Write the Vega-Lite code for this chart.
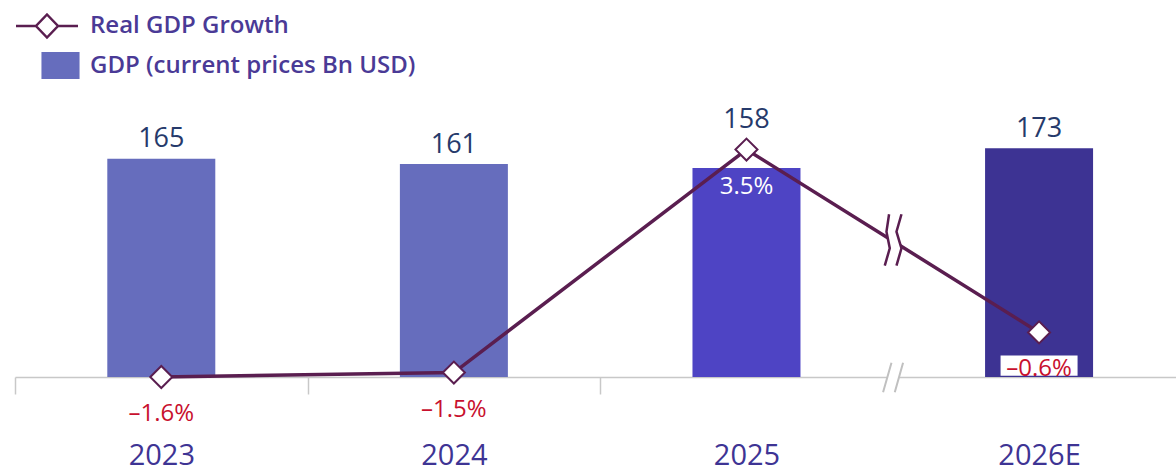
{
  "$schema": "https://vega.github.io/schema/vega-lite/v6.json",
  "width": 1161,
  "height": 377,
  "autosize": {"type": "none"},
  "padding": {"left": 15, "top": 0, "right": 0, "bottom": 92},
  "config": {"view": {"stroke": null}, "font": "Open Sans"},
  "datasets": {
    "main": [
      {"year": "2023", "idx": 0, "gdp": 165, "growth": -1.6, "glabel": "–1.6%"},
      {"year": "2024", "idx": 1, "gdp": 161, "growth": -1.5, "glabel": "–1.5%"},
      {"year": "2025", "idx": 2, "gdp": 158, "growth": 3.5, "glabel": "3.5%"},
      {"year": "2026E", "idx": 3, "gdp": 173, "growth": -0.6, "glabel": "–0.6%"}
    ],
    "legend": [{"series": "Real GDP Growth"}, {"series": "GDP (current prices Bn USD)"}],
    "breaks": [
      {"idx": 2.5, "growth": 1.45, "kind": "line"},
      {"idx": 2.5, "growth": -1.6, "kind": "axis"}
    ]
  },
  "data": {"name": "main"},
  "resolve": {"scale": {"y": "independent"}, "axis": {"x": "independent"}},
  "layer": [
    {
      "mark": {"type": "bar", "size": 108},
      "encoding": {
        "x": {"field": "idx", "type": "quantitative", "scale": {"domain": [-0.5, 3.468], "nice": false, "zero": false, "padding": 0},
          "axis": {"orient": "bottom", "values": [-0.5, 0.5, 1.5], "labels": false, "domain": true, "domainColor": "#C8C8C8", "domainWidth": 1.5, "ticks": true, "tickColor": "#C8C8C8", "tickWidth": 1.5, "tickSize": 17, "grid": false, "title": null}},
        "y": {"field": "gdp", "type": "quantitative", "scale": {"domain": [0, 285], "nice": false, "zero": false}, "axis": null},
        "color": {"field": "year", "type": "nominal", "scale": {"domain": ["2023", "2024", "2025", "2026E"], "range": ["#666DBD", "#666DBD", "#4E44C4", "#3D3393"]}, "legend": null}
      }
    },
    {
      "data": {"name": "breaks"},
      "transform": [{"filter": "datum.kind === 'axis'"}],
      "mark": {"type": "point", "shape": "M-0.13,-1.43L1.03,-1.43L0.2,1.53L-0.97,1.53Z", "size": 400, "filled": true, "fill": "white", "opacity": 1, "strokeWidth": 0},
      "encoding": {
        "x": {"field": "idx", "type": "quantitative", "scale": {"domain": [-0.5, 3.468], "nice": false, "zero": false, "padding": 0}, "axis": null},
        "y": {"field": "growth", "type": "quantitative", "scale": {"domain": [-1.6, 6.853], "nice": false, "zero": false}, "axis": null}
      }
    },
    {
      "data": {"name": "breaks"},
      "transform": [{"filter": "datum.kind === 'axis'"}],
      "mark": {"type": "point", "shape": "M-0.97,1.53L-0.13,-1.43M0.2,1.53L1.03,-1.43", "size": 400, "filled": false, "stroke": "#C0C0C0", "strokeWidth": 2, "opacity": 1},
      "encoding": {
        "x": {"field": "idx", "type": "quantitative", "scale": {"domain": [-0.5, 3.468], "nice": false, "zero": false, "padding": 0}, "axis": null},
        "y": {"field": "growth", "type": "quantitative", "scale": {"domain": [-1.6, 6.853], "nice": false, "zero": false}, "axis": null}
      }
    },
    {
      "mark": {"type": "line", "color": "#5A1E50", "strokeWidth": 3.5},
      "encoding": {
        "x": {"field": "idx", "type": "quantitative", "scale": {"domain": [-0.5, 3.468], "nice": false, "zero": false, "padding": 0},
          "axis": {"orient": "bottom", "values": [0, 1, 2, 3], "labelExpr": "['2023','2024','2025','2026E'][datum.value]", "domain": false, "ticks": false, "tickSize": 0, "grid": false, "labelFontSize": 29, "labelColor": "#3E3494", "labelPadding": 78, "labelBaseline": "middle", "labelFont": "Open Sans", "labelFlush": false, "labelOverlap": false, "title": null}},
        "y": {"field": "growth", "type": "quantitative", "scale": {"domain": [-1.6, 6.853], "nice": false, "zero": false}, "axis": null}
      }
    },
    {
      "data": {"name": "breaks"},
      "transform": [{"filter": "datum.kind === 'line'"}],
      "mark": {"type": "point", "shape": "M-0.37,-2.67L0.87,-2.67L0.37,-0.93L0.87,0.73L0.37,2.47L-0.8,2.47L-0.3,0.73L-0.63,-0.93Z", "size": 400, "filled": true, "fill": "white", "opacity": 1, "strokeWidth": 0},
      "encoding": {
        "x": {"field": "idx", "type": "quantitative", "scale": {"domain": [-0.5, 3.468], "nice": false, "zero": false, "padding": 0}, "axis": null},
        "y": {"field": "growth", "type": "quantitative", "scale": {"domain": [-1.6, 6.853], "nice": false, "zero": false}, "axis": null}
      }
    },
    {
      "data": {"name": "breaks"},
      "transform": [{"filter": "datum.kind === 'line'"}],
      "mark": {"type": "point", "shape": "M-0.37,-2.67L-0.63,-0.93L-0.3,0.73L-0.8,2.47M0.87,-2.67L0.37,-0.93L0.87,0.73L0.37,2.47", "size": 400, "filled": false, "stroke": "#5A1E50", "strokeWidth": 2.5, "opacity": 1},
      "encoding": {
        "x": {"field": "idx", "type": "quantitative", "scale": {"domain": [-0.5, 3.468], "nice": false, "zero": false, "padding": 0}, "axis": null},
        "y": {"field": "growth", "type": "quantitative", "scale": {"domain": [-1.6, 6.853], "nice": false, "zero": false}, "axis": null}
      }
    },
    {
      "mark": {"type": "point", "shape": "diamond", "size": 484, "filled": true, "fill": "white", "stroke": "#5A1E50", "strokeWidth": 2, "opacity": 1},
      "encoding": {
        "x": {"field": "idx", "type": "quantitative", "scale": {"domain": [-0.5, 3.468], "nice": false, "zero": false, "padding": 0}, "axis": null},
        "y": {"field": "growth", "type": "quantitative", "scale": {"domain": [-1.6, 6.853], "nice": false, "zero": false}, "axis": null}
      }
    },
    {
      "transform": [{"filter": "datum.year === '2026E'"}],
      "mark": {"type": "point", "shape": "M-3.85,2.3L3.85,2.3L3.85,4.33L-3.85,4.33Z", "size": 400, "filled": true, "fill": "white", "opacity": 1, "strokeWidth": 0},
      "encoding": {
        "x": {"field": "idx", "type": "quantitative", "scale": {"domain": [-0.5, 3.468], "nice": false, "zero": false, "padding": 0}, "axis": null},
        "y": {"field": "growth", "type": "quantitative", "scale": {"domain": [-1.6, 6.853], "nice": false, "zero": false}, "axis": null}
      }
    },
    {
      "mark": {"type": "text", "dy": 37, "fontSize": 24, "baseline": "middle", "align": "center"},
      "encoding": {
        "x": {"field": "idx", "type": "quantitative", "scale": {"domain": [-0.5, 3.468], "nice": false, "zero": false, "padding": 0}, "axis": null},
        "y": {"field": "growth", "type": "quantitative", "scale": {"domain": [-1.6, 6.853], "nice": false, "zero": false}, "axis": null},
        "text": {"field": "glabel"},
        "color": {"condition": {"test": "datum.growth > 0", "value": "#FFFFFF"}, "value": "#C8102E"}
      }
    },
    {
      "transform": [{"filter": "datum.year !== '2025'"}],
      "mark": {"type": "text", "dy": -19.5, "fontSize": 27, "baseline": "middle", "align": "center", "color": "#263A6B"},
      "encoding": {
        "x": {"field": "idx", "type": "quantitative", "scale": {"domain": [-0.5, 3.468], "nice": false, "zero": false, "padding": 0}, "axis": null},
        "y": {"field": "gdp", "type": "quantitative", "scale": {"domain": [0, 285], "nice": false, "zero": false}, "axis": null},
        "text": {"field": "gdp", "type": "quantitative"}
      }
    },
    {
      "transform": [{"filter": "datum.year === '2025'"}],
      "mark": {"type": "text", "dy": -48, "fontSize": 27, "baseline": "middle", "align": "center", "color": "#263A6B"},
      "encoding": {
        "x": {"field": "idx", "type": "quantitative", "scale": {"domain": [-0.5, 3.468], "nice": false, "zero": false, "padding": 0}, "axis": null},
        "y": {"field": "gdp", "type": "quantitative", "scale": {"domain": [0, 285], "nice": false, "zero": false}, "axis": null},
        "text": {"field": "gdp", "type": "quantitative"}
      }
    },
    {
      "data": {"name": "legend"},
      "mark": {"type": "point", "opacity": 0},
      "encoding": {
        "shape": {
          "field": "series", "type": "nominal",
          "scale": {"domain": ["Real GDP Growth", "GDP (current prices Bn USD)"], "range": ["M-3.1,0L-1.1,0M1.1,0L3.1,0M0,-1.15L1.1,0L0,1.15L-1.1,0Z", "M-0.43,-1.22H3.13V-1.02H-0.43V-0.82H3.13V-0.62H-0.43V-0.42H3.13V-0.22H-0.43V-0.02H3.13V0.18H-0.43V0.38H3.13V0.58H-0.43V0.78H3.13V0.98H-0.43V1.18H3.13V1.22H-0.43Z"]},
          "legend": {
            "orient": "none", "legendX": 20, "legendY": 14, "title": null, "padding": 0,
            "symbolSize": 400, "symbolStrokeWidth": 2.5,
            "labelFontSize": 24, "labelFont": "Open Sans", "labelFontWeight": 600, "labelColor": "#4A3A96",
            "labelOffset": 31, "rowPadding": 4.5, "labelLimit": 600,
            "encode": {"symbols": {"update": {"opacity": {"value": 1}}}}
          }
        },
        "stroke": {
          "field": "series", "type": "nominal",
          "scale": {"domain": ["Real GDP Growth", "GDP (current prices Bn USD)"], "range": ["#5A1E50", "#666DBD"]},
          "legend": {
            "orient": "none", "legendX": 20, "legendY": 14, "title": null, "padding": 0,
            "symbolSize": 400, "symbolStrokeWidth": 2.5,
            "labelFontSize": 24, "labelFont": "Open Sans", "labelFontWeight": 600, "labelColor": "#4A3A96",
            "labelOffset": 31, "rowPadding": 4.5, "labelLimit": 600
          }
        }
      }
    }
  ]
}
